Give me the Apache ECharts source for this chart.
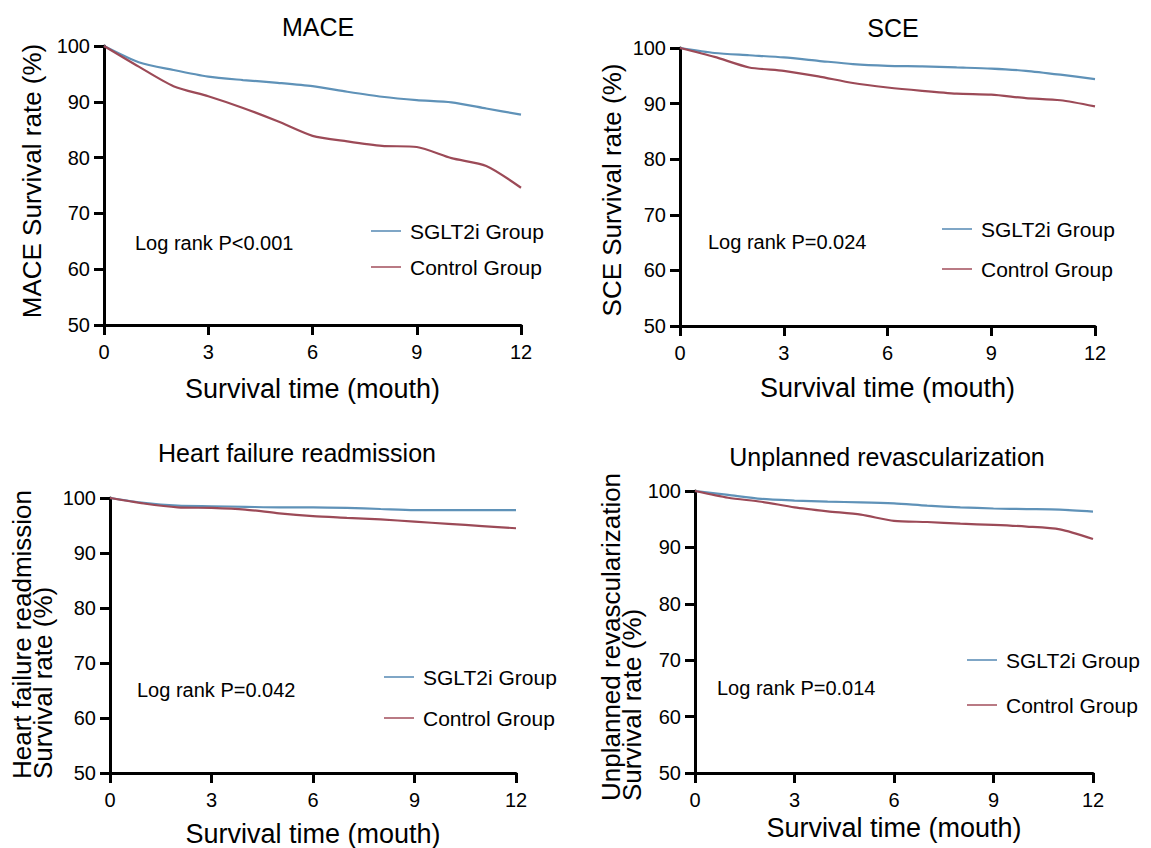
<!DOCTYPE html>
<html>
<head>
<meta charset="utf-8">
<script src="https://cdn.jsdelivr.net/npm/echarts@6/dist/echarts.min.js"></script>
<style>
  html, body { margin: 0; padding: 0; background: #fff; }
  #main { width: 1151px; height: 848px; }
</style>
</head>
<body>
<div id="main"></div>
<script>
// data
var months = [0, 1, 2, 3, 4, 5, 6, 7, 8, 9, 10, 11, 12];
var xTicks = [0, 3, 6, 9, 12];
var yTicks = [50, 60, 70, 80, 90, 100];

var maceSglt = [100, 97.1, 95.7, 94.5, 93.9, 93.4, 92.8, 91.8, 90.9, 90.3, 89.9, 88.8, 87.7];
var maceCtrl = [100, 96.3, 92.8, 91.0, 88.9, 86.5, 83.9, 82.9, 82.1, 81.9, 79.9, 78.5, 74.6];
var sceSglt = [100, 99.1, 98.7, 98.3, 97.7, 97.1, 96.8, 96.7, 96.5, 96.3, 95.9, 95.2, 94.4];
var sceCtrl = [100, 98.4, 96.5, 95.9, 94.9, 93.7, 92.9, 92.3, 91.8, 91.6, 91.0, 90.6, 89.5];
var hfSglt = [100, 99.1, 98.6, 98.5, 98.4, 98.3, 98.3, 98.2, 98.0, 97.8, 97.8, 97.8, 97.8];
var hfCtrl = [100, 99.0, 98.3, 98.2, 97.9, 97.2, 96.7, 96.4, 96.1, 95.7, 95.3, 94.9, 94.5];
var urSglt = [100, 99.3, 98.6, 98.3, 98.1, 98.0, 97.8, 97.4, 97.1, 96.9, 96.8, 96.7, 96.35];
var urCtrl = [100, 98.8, 98.1, 97.1, 96.4, 95.8, 94.7, 94.5, 94.2, 94.0, 93.7, 93.2, 91.5];

var groupNames = ['SGLT2i Group', 'Control Group'];
var titles = ['MACE', 'SCE', 'Heart failure readmission', 'Unplanned revascularization'];
var yNames = ['MACE Survival rate (%)', 'SCE Survival rate (%)',
  'Heart failure readmission\nSurvival rate (%)', 'Unplanned revascularization\nSurvival rate (%)'];
var pTexts = ['Log rank P<0.001', 'Log rank P=0.024', 'Log rank P=0.042', 'Log rank P=0.014'];

var FONT = '"Liberation Sans", Arial, Helvetica, sans-serif';
var BLUE = '#5f92b8';
var RED = '#9c4a57';
var BLUE_LEG = '#7fa6c6';
var RED_LEG = '#b97a84';

// panel layout (pixels)
var panels = [
  { grid: { left: 104, top: 46, width: 417, height: 279 }, titleX: 313, titleY: 9, nameGap: 50,
    yName: { x: 32, y: 181, align: 'center' }, pText: [135, 243], legend: [371, 220, 14], data: [maceSglt, maceCtrl] },
  { grid: { left: 680, top: 48, width: 415, height: 278 }, titleX: 888, titleY: 10, nameGap: 48,
    yName: { x: 612, y: 190, align: 'center' }, pText: [708, 242], legend: [942, 218, 18], data: [sceSglt, sceCtrl] },
  { grid: { left: 110, top: 498, width: 406, height: 275 }, titleX: 292, titleY: 435, nameGap: 47,
    yName: { x: 32, y: 779, align: 'left' }, pText: [137, 690], legend: [384, 666, 19], data: [hfSglt, hfCtrl] },
  { grid: { left: 695, top: 491, width: 398, height: 282 }, titleX: 882, titleY: 439, nameGap: 41,
    yName: { x: 621, y: 801, align: 'left' }, pText: [717, 688], legend: [967, 649, 23], data: [urSglt, urCtrl] }
];

function pairs(arr) {
  return months.map(function (m, i) { return [m, arr[i]]; });
}

var chart = echarts.init(document.getElementById('main'), null, { renderer: 'svg' });

var option = {
  backgroundColor: '#ffffff',
  animation: false,
  textStyle: { fontFamily: FONT },
  title: [], grid: [], xAxis: [], yAxis: [], series: [], legend: [], graphic: []
};

panels.forEach(function (p, k) {
  option.title.push({
    text: titles[k], left: p.titleX, top: p.titleY, textAlign: 'center',
    textStyle: { fontFamily: FONT, fontSize: 25, fontWeight: 'normal', color: '#000' }
  });
  option.grid.push(p.grid);
  option.xAxis.push({
    type: 'value', gridIndex: k, min: xTicks[0], max: xTicks[xTicks.length - 1], interval: 3,
    name: 'Survival time (mouth)', nameLocation: 'middle', nameGap: p.nameGap,
    nameTextStyle: { fontFamily: FONT, fontSize: 27, color: '#000' },
    axisLine: { lineStyle: { color: '#000', width: 3 } },
    axisTick: { length: 10, lineStyle: { color: '#000', width: 3 } },
    axisLabel: { fontFamily: FONT, fontSize: 20, color: '#000', margin: 17 },
    splitLine: { show: false }
  });
  option.yAxis.push({
    type: 'value', gridIndex: k, min: yTicks[0], max: yTicks[yTicks.length - 1], interval: 10,
    axisLine: { show: true, lineStyle: { color: '#000', width: 3 } },
    axisTick: { show: true, length: 10, lineStyle: { color: '#000', width: 3 } },
    axisLabel: { fontFamily: FONT, fontSize: 20, color: '#000', margin: 14 },
    splitLine: { show: false }
  });
  [BLUE, RED].forEach(function (c, j) {
    option.series.push({
      type: 'line', name: groupNames[j], xAxisIndex: k, yAxisIndex: k,
      data: pairs(p.data[j]), symbol: 'none', smooth: 0.25,
      lineStyle: { color: c, width: 2.2 }, itemStyle: { color: c }
    });
  });
  option.legend.push({
    data: [
      { name: groupNames[0], icon: 'rect', itemStyle: { color: BLUE_LEG } },
      { name: groupNames[1], icon: 'rect', itemStyle: { color: RED_LEG } }
    ],
    orient: 'vertical', left: p.legend[0], top: p.legend[1], padding: 0,
    itemGap: p.legend[2], itemWidth: 30, itemHeight: 2, selectedMode: false,
    textStyle: { fontFamily: FONT, fontSize: 21, color: '#000', lineHeight: 22, padding: [0, 0, 0, 4] }
  });
  option.graphic.push({
    type: 'text', x: p.yName.x, y: p.yName.y, rotation: Math.PI / 2,
    style: {
      text: yNames[k], font: '26px ' + FONT, fill: '#000', lineHeight: 21,
      textAlign: p.yName.align, textVerticalAlign: 'middle'
    }
  });
  option.graphic.push({
    type: 'text', x: p.pText[0], y: p.pText[1],
    style: { text: pTexts[k], font: '20px ' + FONT, fill: '#000', textVerticalAlign: 'middle' }
  });
});

chart.setOption(option);
</script>
</body>
</html>
